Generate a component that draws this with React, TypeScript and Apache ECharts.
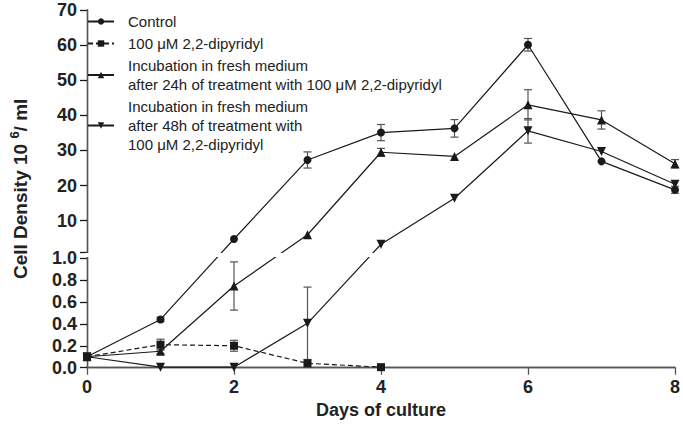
import React, { useEffect, useRef } from 'react';
import * as echarts from 'echarts';

// ---- data ----
const DAYS = [0, 1, 2, 3, 4, 5, 6, 7, 8];
const CONTROL = [0.1, 0.44, 4.8, 27.3, 35.1, 36.3, 60.1, 26.9, 18.8];
const CONTROL_ERR = [0, 0.02, 0, 2.3, 2.3, 2.5, 1.8, 0, 1.0];
const DIPY_DAYS = [0, 1, 2, 3, 4];
const DIPY = [0.1, 0.21, 0.2, 0.04, 0.005];
const DIPY_ERR = [0, 0.05, 0.05, 0, 0];
const INC24 = [0.1, 0.15, 0.745, 6.0, 29.5, 28.3, 43.0, 38.7, 26.2];
const INC24_ERR = [0, 0.02, 0.22, 0, 1.1, 0, 4.3, 2.6, 1.2];
const INC48 = [0.1, 0.005, 0.005, 0.405, 3.3, 16.4, 35.6, 29.7, 20.4];
const INC48_ERR = [0, 0, 0, 0.33, 0, 0, 3.5, 0, 0];

const LOWER_TICKS = [0, 0.2, 0.4, 0.6, 0.8, 1.0];
const UPPER_TICKS = [10, 20, 30, 40, 50, 60, 70];
const X_TICKS = [0, 2, 4, 6, 8];

const NAMES = [
  'Control',
  '100 \u03bcM 2,2-dipyridyl',
  'Incubation in fresh medium\nafter 24h of treatment with 100 \u03bcM 2,2-dipyridyl',
  'Incubation in fresh medium\nafter 48h of treatment with\n100 \u03bcM 2,2-dipyridyl',
];

// broken axis: lower segment 0..1 expanded, upper segment 0..70 compressed
const BREAK_OFFSET = 1.0201;
const UPPER_SCALE = 0.03203;
const toU = (v: number) => (v <= 1 ? v : BREAK_OFFSET + UPPER_SCALE * v);
const fromU = (u: number) => (u <= 1.0001 ? u : (u - BREAK_OFFSET) / UPPER_SCALE);
const Y_MAX = toU(70);
const CAP_U = toU(1.1);

const FONT = '"Liberation Sans", Arial, sans-serif';
const INK = '#1a1a1a';
const GREY = '#555';

function pts(xs: number[], ys: number[]) {
  return xs.map((x, i) => [x, toU(ys[i])]);
}
function errs(xs: number[], ys: number[], es: number[]) {
  const out: number[][] = [];
  xs.forEach((x, i) => {
    if (es[i] > 0) out.push([x, toU(Math.max(0, ys[i] - es[i])), toU(ys[i] + es[i])]);
  });
  return out;
}

const errorRender = (params: any, api: any) => {
  const x = api.value(0);
  const lo = api.coord([x, api.value(1)]);
  const hi = api.coord([x, api.value(2)]);
  const w = 4;
  const st = { stroke: GREY, lineWidth: 1.2 };
  return {
    type: 'group',
    children: [
      { type: 'line', shape: { x1: lo[0], y1: lo[1], x2: hi[0], y2: hi[1] }, style: st },
      { type: 'line', shape: { x1: hi[0] - w, y1: hi[1], x2: hi[0] + w, y2: hi[1] }, style: st },
      { type: 'line', shape: { x1: lo[0] - w, y1: lo[1], x2: lo[0] + w, y2: lo[1] }, style: st },
    ],
  };
};

export default function App() {
  const ref = useRef<HTMLDivElement>(null);
  useEffect(() => {
    document.body.style.margin = '0';
    if (!ref.current) return;
    const chart = echarts.init(ref.current, null, { renderer: 'svg' });
    const lineSeries = (name: string, data: number[][], symbol: string, rotate: number, size: number, dashed = false) => ({
      name,
      type: 'line',
      data,
      symbol,
      symbolSize: size,
      symbolRotate: rotate,
      itemStyle: { color: INK },
      lineStyle: { color: INK, width: 1.2, type: dashed ? [5, 3] : 'solid' },
      z: 3,
    });
    const errSeries = (data: number[][]) => ({
      type: 'custom',
      renderItem: errorRender,
      data,
      encode: { x: 0, y: [1, 2] },
      z: 2,
      silent: true,
    });
    chart.setOption({
      animation: false,
      textStyle: { fontFamily: FONT },
      grid: { left: 84, right: 8, top: 10, bottom: 61.3 },
      legend: {
        orient: 'vertical',
        left: 87,
        top: 12,
        padding: 0,
        itemGap: 3,
        itemWidth: 26,
        itemHeight: 8,
        selectedMode: false,
        data: NAMES,
        textStyle: { fontFamily: FONT, fontSize: 15, lineHeight: 19, color: '#222', padding: [0, 0, 0, 9] },
      },
      xAxis: [
        {
          type: 'value',
          min: 0,
          max: 8,
          interval: 2,
          name: 'Days of culture',
          nameLocation: 'middle',
          nameGap: 33,
          nameTextStyle: { fontFamily: FONT, fontSize: 18, fontWeight: 'bold', color: '#222' },
          axisLine: { lineStyle: { color: GREY, width: 1.3 } },
          axisTick: { show: true, length: 7, lineStyle: { color: GREY, width: 1.3 }, customValues: X_TICKS },
          axisLabel: { fontFamily: FONT, fontSize: 18, fontWeight: 'bold', color: '#222', margin: 10, customValues: X_TICKS },
          splitLine: { show: false },
        },
        {
          type: 'value',
          position: 'top',
          min: 0,
          max: 8,
          axisLine: { show: true, lineStyle: { color: GREY, width: 1.3 } },
          axisTick: { show: false },
          axisLabel: { show: false },
          splitLine: { show: false },
        },
      ],
      yAxis: [
        {
          type: 'value',
          min: 0,
          max: Y_MAX,
          name: 'Cell Density 10 {sup|6}/ ml',
          nameLocation: 'middle',
          nameRotate: 90,
          nameGap: 55,
          nameTextStyle: {
            fontFamily: FONT,
            fontSize: 19,
            fontWeight: 'bold',
            color: '#222',
            lineHeight: 24,
            rich: { sup: { fontFamily: FONT, fontSize: 13, fontWeight: 'bold', color: '#222', verticalAlign: 'top', lineHeight: 13 } },
          },
          axisLine: { show: true, lineStyle: { color: INK, width: 1.3 } },
          axisTick: {
            show: true,
            length: 7,
            lineStyle: { color: INK, width: 1.3 },
            customValues: [...LOWER_TICKS, CAP_U, ...UPPER_TICKS.map(toU)],
          },
          axisLabel: {
            fontFamily: FONT,
            fontSize: 18,
            fontWeight: 'bold',
            color: '#222',
            margin: 10,
            customValues: [...LOWER_TICKS, ...UPPER_TICKS.map(toU)],
            formatter: (u: number) => (u <= 1.0001 ? u.toFixed(1) : String(Math.round(fromU(u)))),
          },
          splitLine: { show: false },
        },
        {
          type: 'value',
          position: 'right',
          min: 0,
          max: Y_MAX,
          axisLine: { show: true, lineStyle: { color: GREY, width: 1.3 } },
          axisTick: { show: false },
          axisLabel: { show: false },
          splitLine: { show: false },
        },
      ],
      series: [
        errSeries(errs(DAYS, CONTROL, CONTROL_ERR)),
        errSeries(errs(DIPY_DAYS, DIPY, DIPY_ERR)),
        errSeries(errs(DAYS, INC24, INC24_ERR)),
        errSeries(errs(DAYS, INC48, INC48_ERR)),
        lineSeries(NAMES[0], pts(DAYS, CONTROL), 'circle', 0, 8),
        lineSeries(NAMES[1], pts(DIPY_DAYS, DIPY), 'rect', 0, 8, true),
        lineSeries(NAMES[2], pts(DAYS, INC24), 'triangle', 0, 9),
        lineSeries(NAMES[3], pts(DAYS, INC48), 'triangle', 180, 9),
      ],
    });
    // white band across the axis break (lines and axis are interrupted there)
    const yTop = chart.convertToPixel({ yAxisIndex: 0 }, CAP_U) as number;
    const yBot = chart.convertToPixel({ yAxisIndex: 0 }, 1.0) as number;
    const xL = chart.convertToPixel({ xAxisIndex: 0 }, 0) as number;
    const xR = chart.convertToPixel({ xAxisIndex: 0 }, 8) as number;
    chart.setOption({
      graphic: [
        {
          type: 'rect',
          shape: { x: xL - 3, y: yTop + 1, width: xR - xL, height: yBot - yTop - 2 },
          style: { fill: '#fff' },
          z: 100,
          silent: true,
        },
      ],
    });
    return () => chart.dispose();
  }, []);
  return <div ref={ref} style={{ width: 683, height: 429 }} />;
}
